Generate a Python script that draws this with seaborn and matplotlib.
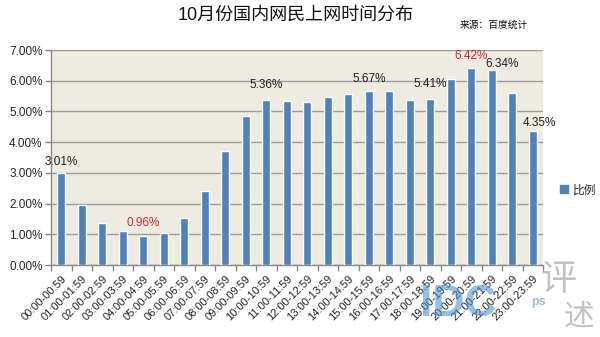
import matplotlib
matplotlib.use("Agg")
import matplotlib.pyplot as plt
import seaborn as sns
import numpy as np
from matplotlib.ticker import FuncFormatter, FixedLocator
from matplotlib.patches import Patch

sns.set_theme(style="white")
plt.rcParams['font.family'] = ['Liberation Sans', 'Noto Sans CJK SC', 'DejaVu Sans']

hours = ["00:00-00:59", "01:00-01:59", "02:00-02:59", "03:00-03:59", "04:00-04:59",
         "05:00-05:59", "06:00-06:59", "07:00-07:59", "08:00-08:59", "09:00-09:59",
         "10:00-10:59", "11:00-11:59", "12:00-12:59", "13:00-13:59", "14:00-14:59",
         "15:00-15:59", "16:00-16:59", "17:00-17:59", "18:00-18:59", "19:00-19:59",
         "20:00-20:59", "21:00-21:59", "22:00-22:59", "23:00-23:59"]
share = [3.01, 1.95, 1.38, 1.10, 0.96, 1.03, 1.54, 2.41, 3.72, 4.85,
         5.36, 5.35, 5.32, 5.46, 5.56, 5.67, 5.65, 5.37, 5.41, 6.07,
         6.42, 6.34, 5.61, 4.35]
labelled = [0, 4, 10, 15, 18, 20, 21, 23]
red_labels = [4, 20]
series_name = "比例"
title = "10月份国内网民上网时间分布"
source = "来源：百度统计"

fig = plt.figure(figsize=(6, 3.37), dpi=100)
ax = fig.add_axes([0.085, 0.2136, 0.82, 0.638])
ax.set_facecolor("#EEEBE1")

sns.barplot(x=hours, y=share, color="#4F81BD", width=0.4, saturation=1, ax=ax, zorder=3)

ax.set_ylim(0, 7)
ax.set_xlim(-0.5, len(hours) - 0.5)
ax.yaxis.set_major_locator(FixedLocator(np.arange(0, 8, 1)))
ax.yaxis.set_major_formatter(FuncFormatter(lambda v, p: f"{v:.2f}%"))
ax.grid(axis="y", color="#9C9C9C", lw=1, zorder=1)
ax.grid(axis="x", visible=False)
for s in ["top", "right"]:
    ax.spines[s].set_visible(False)
for s in ["left", "bottom"]:
    ax.spines[s].set_color("#888888")
    ax.spines[s].set_linewidth(1)

ax.tick_params(axis="y", length=4, width=1, color="#888888", labelsize=8.5, pad=2, left=True)
ax.set_xticks(range(len(hours)))
ax.set_xticklabels(hours, rotation=45, ha="right", rotation_mode="anchor", fontsize=8)
ax.tick_params(axis="x", which="major", length=0, pad=6)
ax.set_xticks(np.arange(-0.5, len(hours), 1), minor=True)
ax.tick_params(axis="x", which="minor", length=4, width=1, color="#888888", bottom=True)
ax.set_xlabel("")
ax.set_ylabel("")

offsets = {0: (0, 0.15), 4: (0, 0.2), 10: (0, 0.3), 15: (0, 0.2), 18: (0, 0.28),
           20: (0, 0.2), 21: (0.5, 0.0), 23: (0.3, 0.08)}
for i in labelled:
    dx, dy = offsets[i]
    ax.text(i + dx, share[i] + dy, f"{share[i]:.2f}%", ha="center", va="bottom",
            fontsize=8.5, color="#D9262B" if i in red_labels else "#222222", zorder=5)

fig.text(0.492, 0.955, title, ha="center", va="center", fontsize=13, color="#111111")
fig.text(0.88, 0.925, source, ha="right", va="center", fontsize=7, color="#111111")

leg = fig.legend(handles=[Patch(color="#4F81BD", label=series_name)], loc="center left",
                 bbox_to_anchor=(0.915, 0.435), frameon=False, fontsize=8.5,
                 handlelength=0.7, handleheight=0.7, handletextpad=0.4)

# watermark
fig.text(0.70, 0.095, "IDC", fontsize=32, fontweight="bold", color="#3D8FD8", alpha=0.55,
         ha="left", va="center", family="Liberation Sans")
fig.text(0.885, 0.105, "ps", fontsize=9, fontweight="bold", color="#3D8FD8", alpha=0.55,
         ha="left", va="center")
fig.text(0.93, 0.17, "评", fontsize=26, color="#9A9A9A", alpha=0.6, ha="center",
         va="center", family=["Noto Sans CJK SC"])
fig.text(0.965, 0.06, "述", fontsize=22, color="#9A9A9A", alpha=0.6, ha="center",
         va="center", family=["Noto Sans CJK SC"])

fig.savefig("out.png", dpi=100)
